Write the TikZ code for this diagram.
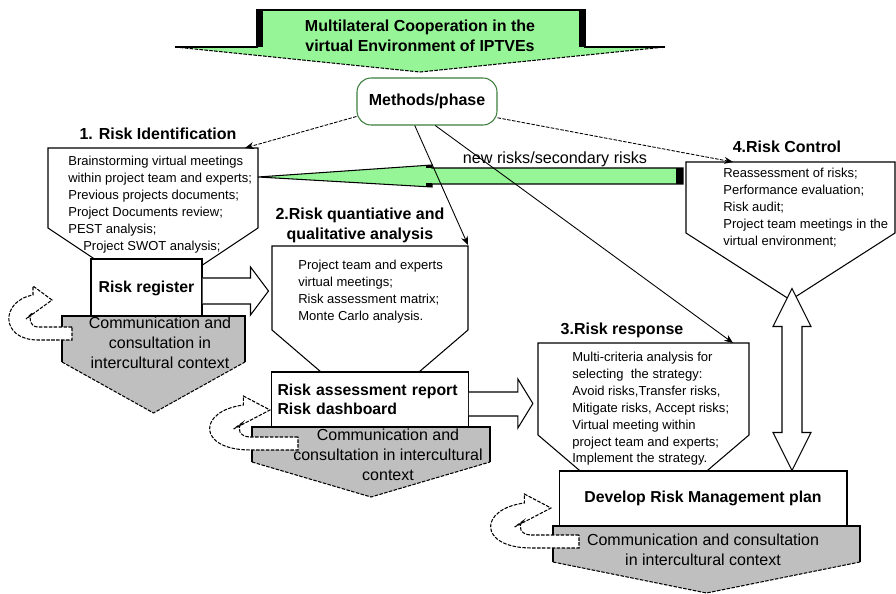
\documentclass[tikz,border=0pt]{standalone}
\usepackage{fontspec}
\setmainfont{Liberation Sans}
\usepackage{xcolor}
\usepackage{tikz}
\usetikzlibrary{arrows.meta}
\usetikzlibrary{calc}
\definecolor{lgreen}{RGB}{150,245,150}
\definecolor{dgreen}{RGB}{60,125,60}
\tikzstyle{block} = [draw, fill=white, line width=0.6pt,
	font=\bfseries\fontsize{9}{11}\selectfont]
\tikzstyle{pent} = [draw, fill=white, line width=0.6pt]
\tikzstyle{fat} = [draw, fill=white, line width=0.6pt]
\tikzstyle{heading} = [font=\bfseries\fontsize{9.1}{11.3}\selectfont, align=center]
\tikzstyle{listtext} = [font=\fontsize{7.4}{9.6}\selectfont, align=left, anchor=north west, inner sep=0pt]
\tikzstyle{commtext} = [font=\fontsize{9.1}{11.3}\selectfont, align=center]
\tikzstyle{arrow} = [-{Stealth[length=5pt, width=4pt]}, line width=0.5pt]
\tikzstyle{fine} = [dash pattern=on 2pt off 0.8pt]
\tikzstyle{uturn} = [draw, fill=white, fine, line width=0.6pt]
\newcommand{\drawpent}[6]{\draw[#1] (#2,#4) -- (#3,#4) -- (#3,#5) -- ({(#2+#3)/2},#6) -- (#2,#5) -- cycle}
\newcommand{\drawcomm}[5]{\fill[gray!50] (#1,#3) -- (#2,#3) -- (#2,#4) -- ({(#1+#2)/2},#5) -- (#1,#4) -- cycle;
	\draw[line width=0.6pt] (#1,#4) -- (#1,#3) -- (#2,#3) -- (#2,#4);
	\draw[line width=0.6pt, fine] (#1,#4) -- ({(#1+#2)/2},#5) -- (#2,#4)}
\newcommand{\drawuturn}[2]{\begin{scope}[shift={#1}, xscale=#2]
	\draw[uturn] (0,0) -- (-34,0) .. controls (-42,0) and (-44,-9) .. (-40,-14) -- (-46,-8) -- (-20,-27)
		-- (-39,-41) -- (-39,-32) .. controls (-72,-26) and (-72,13) .. (-34,13) -- (0,13) -- cycle;
	\end{scope}}

\begin{document}
\begin{tikzpicture}[x=0.02cm, y=-0.02cm]
	\useasboundingbox (0,0) rectangle (896,594);
	
	%banner
	\fill[lgreen] (257,10) -- (585,10) -- (585,47) -- (665,47) -- (420,72) -- (175,47) -- (257,47) -- cycle;
	\draw[line width=0.6pt] (175,47) -- (257,47) -- (257,10) -- (585,10) -- (585,47) -- (665,47);
	\draw[line width=0.6pt, fine] (175,47) -- (420,72) -- (665,47);
	\fill (257,10) rectangle (263,47);
	\fill (579,10) rectangle (585,47);
	\node (banner) [heading] at (420,36) {Multilateral Cooperation in the\\virtual Environment of IPTVEs};
	
	\node (methods) [draw=dgreen, line width=0.6pt, rounded corners=8pt, fill=white, minimum width=2.8cm,
		minimum height=0.94cm, font=\bfseries\fontsize{9.1}{11}\selectfont] at (427,101.5) {Methods/phase};
	
	%phases
	\drawpent{pent}{48}{258}{148}{228}{298};
	\drawpent{pent}{272}{468}{246}{330}{414};
	\drawpent{pent}{538}{749}{343}{435}{525};
	\drawpent{pent}{686}{895}{162}{233}{300};
	\coordinate (identin) at (245,148);
	\coordinate (analysisin) at (468,245);
	\coordinate (responsein) at (733,343);
	\coordinate (controlin) at (733,162);
	
	\node (register) [block, minimum width=2.22cm, minimum height=1.16cm] at (146.5,288) {Risk register};
	\node (report) [block, minimum height=1.1cm, text width=3.7cm, align=left] at (370,399.5)
		{Risk assessment report\\Risk dashboard};
	\node (develop) [block, minimum width=5.76cm, minimum height=1.1cm] at (703,498.5) {Develop Risk Management plan};
	
	%communication
	\drawcomm{62}{245}{316}{362}{413};
	\drawcomm{252}{490}{427}{462}{497};
	\drawcomm{553}{860}{526}{562}{593};
	\drawuturn{(72,327)}{1};
	\drawuturn{(298,437)}{1.4};
	\drawuturn{(579,535)}{1.4};
	\node (comm1) [commtext] at (160,343) {Communication and\\consultation in\\intercultural context};
	\node (comm2) [commtext] at (388,455) {Communication and\\consultation in intercultural\\context};
	\node (comm3) [commtext] at (703,549.5) {Communication and consultation\\in intercultural context};
	
	\node (identhead) [heading] at (158,134) {1. Risk Identification};
	\node (analysishead) [heading] at (360,225) {2.Risk quantiative and\\qualitative analysis};
	\node (responsehead) [heading] at (622,330) {3.Risk response};
	\node (controlhead) [heading] at (787,147) {4.Risk Control};
	
	\node (identlist) [listtext] at (68,156) {Brainstorming virtual meetings\\within project team and experts;\\
		Previous projects documents;\\Project Documents review;\\PEST analysis;\\\hspace*{8.5pt}Project SWOT analysis;};
	\node (analysislist) [listtext] at (298,260) {Project team and experts\\virtual meetings;\\
		Risk assessment matrix;\\Monte Carlo analysis.};
	\node (responselist) [listtext] at (572,352) {Multi-criteria analysis for\\selecting \ the strategy:\\
		Avoid risks,Transfer risks,\\Mitigate risks, Accept risks;\\Virtual meeting within\\
		project team and experts;\\Implement the strategy.};
	\node (controllist) [listtext] at (723,168) {Reassessment of risks;\\Performance evaluation;\\
		Risk audit;\\Project team meetings in the\\virtual environment;};
	
	%block arrows
	\draw[fat] ($(register.east)+(0,-10)$) -- ++(48,0) -- ++(0,-11) -- ++(18,24) -- ++(-18,24) -- ++(0,-11) -- ++(-48,0);
	\draw[fat] ($(report.east)+(0,-7.5)$) -- ++(49,0) -- ++(0,-13) -- ++(15,24.5) -- ++(-15,24.5) -- ++(0,-12) -- ++(-49,0);
	\draw[fat] ($(develop.north)+(89,0)$) -- ++(19,-38) -- ++(-9,0) -- ++(0,-106) -- ++(9,0) -- ++(-19,-38)
		-- ++(-19,38) -- ++(9,0) -- ++(0,106) -- ++(-9,0) -- cycle;
	
	%new risks
	\draw[fill=lgreen, line width=0.6pt] (258,177) -- (432,165) -- (432,168) -- (683,168) -- (683,184)
		-- (432,184) -- (432,187) -- cycle;
	\fill (676,168) rectangle (683,184);
	\fill (426,165.4) rectangle (432,168.5);
	\fill (426,183.5) rectangle (432,186.6);
	\node (newrisks) [font=\fontsize{9.2}{11}\selectfont] at (555,159) {new risks/secondary risks};
	
	\draw[arrow, fine] (methods.192) -- (identin);
	\draw[arrow] (methods.243) -- (analysisin);
	\draw[arrow] (methods.289) -- (responsein);
	\draw[arrow, fine] (methods.347) -- (controlin);
\end{tikzpicture}
\end{document}
